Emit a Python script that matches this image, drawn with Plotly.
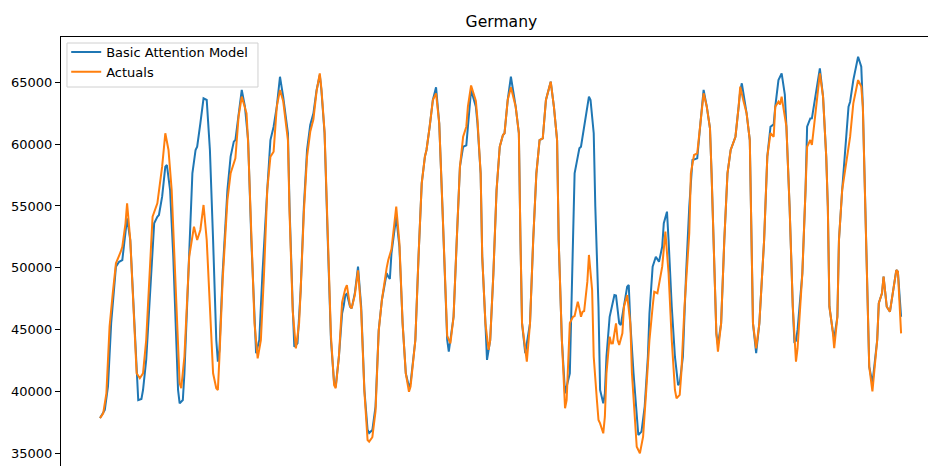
import plotly.graph_objects as go

# hour index (hourly data, ~21 days) and load values
model_hours = [0, 3, 5, 7, 10, 12, 14, 15, 17, 19, 21, 23, 24, 26, 27, 29, 31, 34, 36, 37, 39, 41, 42, 44, 46, 48, 49, 50, 52, 53, 55, 58, 60, 61, 63, 65, 67, 69, 71, 73, 74, 75, 77, 80, 82, 84, 85, 87, 89, 91, 93, 95, 97, 98, 100, 102, 105, 107, 109, 111, 113, 115, 118, 119, 121, 122, 124, 126, 128, 130, 132, 134, 136, 138, 139, 141, 143, 145, 147, 148, 150, 152, 153, 154, 155, 157, 158, 160, 162, 164, 166, 168, 169, 171, 173, 175, 177, 180, 181, 182, 183, 185, 186, 188, 190, 192, 194, 195, 198, 200, 202, 204, 205, 207, 209, 211, 213, 215, 217, 218, 219, 222, 224, 226, 228, 230, 231, 233, 236, 237, 239, 240, 242, 243, 245, 247, 249, 251, 253, 254, 256, 258, 261, 263, 264, 265, 267, 270, 272, 274, 276, 278, 280, 283, 285, 287, 288, 290, 292, 293, 295, 297, 298, 300, 301, 302, 305, 307, 308, 310, 311, 313, 314, 316, 317, 318, 320, 322, 323, 324, 326, 327, 329, 331, 332, 333, 335, 337, 338, 340, 342, 344, 345, 347, 349, 351, 353, 354, 356, 357, 359, 361, 363, 364, 366, 368, 370, 372, 375, 377, 379, 381, 383, 384, 386, 387, 388, 390, 392, 394, 396, 399, 401, 402, 403, 406, 408, 409, 410, 412, 414, 417, 419, 421, 423, 424, 426, 428, 430, 431, 433, 435, 436, 437, 438, 441, 443, 444, 446, 447, 449, 452, 454, 456, 457, 458, 460, 461, 463, 464, 466, 469, 470, 471, 473, 476, 478, 479, 480, 481, 482, 483, 485, 486, 488, 489, 491, 492, 494, 496, 498, 500, 501, 503]
model_values = [37850, 38500, 40400, 45530, 50090, 50490, 50630, 51700, 54000, 52250, 46850, 41470, 39300, 39400, 40120, 42550, 47400, 53600, 54130, 54270, 55750, 58180, 58310, 56290, 50900, 44160, 40120, 39040, 39310, 41470, 48200, 57640, 59530, 59790, 61680, 63700, 63570, 59530, 52250, 44160, 42410, 43360, 49560, 56290, 58990, 60200, 60330, 62490, 64380, 63030, 60330, 52250, 45510, 43090, 44160, 49560, 56290, 60330, 61410, 63030, 65450, 63840, 60880, 54940, 46850, 43620, 43890, 48200, 54940, 59530, 61550, 62490, 64380, 65590, 64380, 60880, 52250, 44160, 40660, 40390, 42810, 46300, 46900, 47800, 47900, 46850, 46720, 47940, 50090, 46850, 40120, 36900, 36640, 36880, 38770, 44970, 47400, 49560, 49280, 49100, 51170, 53330, 54130, 51700, 45510, 41470, 40390, 40660, 44160, 50900, 56830, 58990, 59530, 61410, 63570, 64600, 61680, 54940, 48200, 44160, 43220, 46040, 52250, 58180, 59790, 59900, 61400, 64380, 63030, 61680, 57640, 50900, 45510, 42550, 44160, 49560, 56290, 59790, 60740, 60880, 63570, 65450, 63030, 60880, 52250, 45510, 43090, 45510, 52250, 57640, 60330, 60470, 63570, 65050, 63030, 60330, 52250, 44160, 39850, 40390, 41470, 52250, 57640, 58990, 59660, 59790, 62220, 63840, 63570, 60880, 54940, 46850, 40120, 39040, 39850, 42810, 46040, 47130, 47800, 47760, 45510, 45370, 47130, 48470, 48610, 45510, 41470, 37960, 36480, 36750, 38770, 42810, 46320, 50090, 50900, 50490, 51700, 53600, 54540, 52250, 46850, 42810, 40520, 40660, 42810, 49560, 54940, 58720, 58850, 61680, 64380, 63030, 61280, 57640, 49560, 44700, 43760, 45510, 52250, 57640, 59530, 60600, 63030, 64300, 64920, 62490, 60330, 52250, 45510, 43090, 45510, 52250, 58990, 61410, 61600, 63030, 65180, 65720, 64000, 61410, 54940, 46850, 44030, 44100, 45000, 49560, 56290, 61410, 62080, 62090, 63570, 66130, 63840, 58990, 54940, 46850, 44970, 44300, 46040, 52250, 56290, 61410, 63030, 63430, 65180, 67070, 66260, 63030, 57640, 52250, 45510, 42010, 40660, 41740, 44160, 47130, 47940, 49280, 46850, 46450, 48200, 49820, 49690, 46040]

actual_hours = [0, 2, 4, 6, 8, 10, 13, 14, 16, 17, 19, 21, 23, 25, 27, 29, 31, 33, 36, 37, 39, 41, 43, 45, 47, 49, 50, 51, 53, 55, 56, 59, 61, 63, 65, 67, 69, 71, 73, 74, 75, 77, 80, 82, 85, 87, 89, 92, 93, 95, 97, 99, 101, 103, 105, 107, 109, 111, 113, 115, 118, 119, 121, 123, 125, 126, 128, 130, 132, 134, 136, 138, 139, 141, 143, 145, 147, 148, 150, 152, 154, 155, 157, 158, 160, 162, 164, 166, 168, 169, 171, 173, 175, 177, 180, 181, 183, 185, 186, 188, 190, 192, 194, 195, 198, 200, 202, 204, 205, 207, 209, 211, 213, 215, 217, 218, 220, 222, 224, 226, 228, 230, 231, 233, 236, 237, 239, 240, 242, 244, 245, 247, 249, 251, 253, 254, 256, 258, 261, 263, 264, 265, 268, 270, 272, 274, 276, 278, 280, 283, 285, 287, 288, 290, 292, 293, 295, 297, 298, 300, 301, 302, 303, 304, 306, 307, 309, 310, 312, 313, 314, 316, 317, 318, 320, 321, 322, 324, 325, 326, 328, 329, 331, 333, 334, 336, 337, 339, 341, 343, 345, 347, 348, 350, 351, 353, 355, 357, 359, 361, 362, 364, 365, 367, 370, 371, 373, 375, 377, 379, 381, 383, 384, 386, 387, 388, 390, 392, 394, 396, 399, 401, 402, 404, 406, 408, 409, 410, 412, 414, 417, 419, 421, 423, 424, 426, 427, 428, 431, 433, 435, 437, 438, 441, 443, 444, 446, 447, 449, 452, 454, 456, 457, 458, 460, 461, 463, 464, 466, 469, 470, 471, 473, 476, 478, 479, 480, 481, 482, 483, 485, 486, 488, 489, 491, 492, 494, 496, 498, 500, 501, 503]
actual_values = [37850, 38230, 39850, 45240, 47940, 50360, 51300, 51700, 53600, 55210, 52250, 46850, 41470, 41070, 41470, 44160, 49560, 54130, 55210, 56290, 58180, 60880, 59530, 56290, 49560, 42810, 40660, 40260, 42810, 48200, 50900, 53330, 52250, 53060, 55080, 52250, 46850, 41470, 40260, 40120, 42810, 49010, 55480, 57640, 58850, 62220, 63840, 62490, 60070, 52250, 45510, 42680, 44160, 49560, 56290, 58990, 59390, 63030, 64380, 63500, 60300, 54500, 46500, 43490, 45500, 48200, 54500, 59000, 61000, 62000, 64300, 65720, 64500, 61000, 52500, 44500, 40500, 40260, 42810, 47200, 48300, 48600, 46900, 46720, 47800, 49800, 46500, 40000, 36080, 35940, 36300, 38400, 44900, 47400, 50000, 50630, 51500, 53800, 54940, 52000, 45510, 41470, 39980, 40400, 44160, 50900, 56830, 58990, 59530, 61410, 63570, 64110, 61680, 54940, 48200, 44500, 43890, 46040, 52250, 58180, 60600, 61410, 63030, 64740, 63500, 62000, 57640, 50900, 45510, 43360, 44160, 49560, 56290, 59790, 60740, 60880, 63570, 64600, 63030, 60880, 52250, 45510, 42410, 45510, 52250, 57640, 60330, 60470, 63570, 65050, 63030, 60330, 52250, 44160, 38640, 39310, 45530, 46040, 46100, 47260, 46720, 46040, 46450, 46500, 48880, 51040, 48200, 42810, 39310, 37690, 37420, 36620, 37960, 41470, 44430, 43890, 43900, 45510, 44160, 43760, 44700, 46850, 47800, 45510, 41470, 37420, 35530, 35000, 36340, 40120, 44160, 46850, 48060, 47940, 48750, 50090, 52920, 49560, 44160, 40120, 39450, 39720, 41470, 46850, 52790, 57640, 59120, 59260, 61680, 64110, 63030, 61280, 57640, 49560, 44700, 43220, 45510, 52250, 57640, 59530, 60600, 63030, 64650, 63500, 62490, 60330, 52250, 45510, 43490, 45510, 52250, 58990, 60880, 60600, 63030, 63430, 63200, 63840, 61410, 54940, 46850, 42410, 43500, 49560, 56290, 59790, 60330, 59930, 62220, 65720, 63840, 58990, 54940, 46850, 44970, 43500, 46040, 52250, 56290, 58990, 59790, 60600, 63300, 65180, 64650, 63030, 57640, 52250, 45510, 42010, 40000, 41300, 44160, 47130, 47940, 49280, 46850, 46450, 48200, 49820, 49690, 44700]

y_ticks = [35000, 40000, 45000, 50000, 55000, 60000, 65000]

fig = go.Figure()
fig.add_trace(go.Scatter(x=model_hours, y=model_values, mode="lines",
                         name="Basic Attention Model", line=dict(color="#1f77b4", width=2)))
fig.add_trace(go.Scatter(x=actual_hours, y=actual_values, mode="lines",
                         name="Actuals", line=dict(color="#ff7f0e", width=2)))

# legend frame drawn as a shape (matplotlib-style translucent box)
fig.add_shape(type="rect", xref="paper", yref="paper", x0=0.0069, x1=0.2272, y0=0.8834, y1=0.986,
              line=dict(color="#d0d0d0", width=1), fillcolor="rgba(255,255,255,0.8)", layer="above")

fig.update_layout(
    width=928, height=466,
    paper_bgcolor="white", plot_bgcolor="white",
    font=dict(family="DejaVu Sans", size=13, color="#000000"),
    title=dict(text="Germany", x=0.508, xref="paper", y=1 - 22 / 466, yref="container",
               xanchor="center", yanchor="middle", font=dict(size=15.6), automargin=False),
    margin=dict(l=61, r=0, t=37, b=0, autoexpand=False),
    showlegend=True,
    legend=dict(x=0.006, y=1.0, xanchor="left", yanchor="top",
                bgcolor="rgba(0,0,0,0)", borderwidth=0,
                font=dict(size=13), tracegroupgap=0, itemwidth=30),
    xaxis=dict(range=[-24.5, 519.9], showgrid=False, zeroline=False, showticklabels=False,
               ticks="", showline=True, mirror=True, linecolor="black", linewidth=1,
               automargin=False),
    yaxis=dict(range=[33974, 68663], showgrid=False, zeroline=False, tickvals=y_ticks,
               tickformat="d", ticks="outside", ticklen=5, tickcolor="black",
               showline=True, linecolor="black", linewidth=1, automargin=False),
)

# drop the default 8px page margin so the figure fills the window
fig.write_html("out.html", config={"displayModeBar": False},
               post_script="document.body.style.margin='0';")
